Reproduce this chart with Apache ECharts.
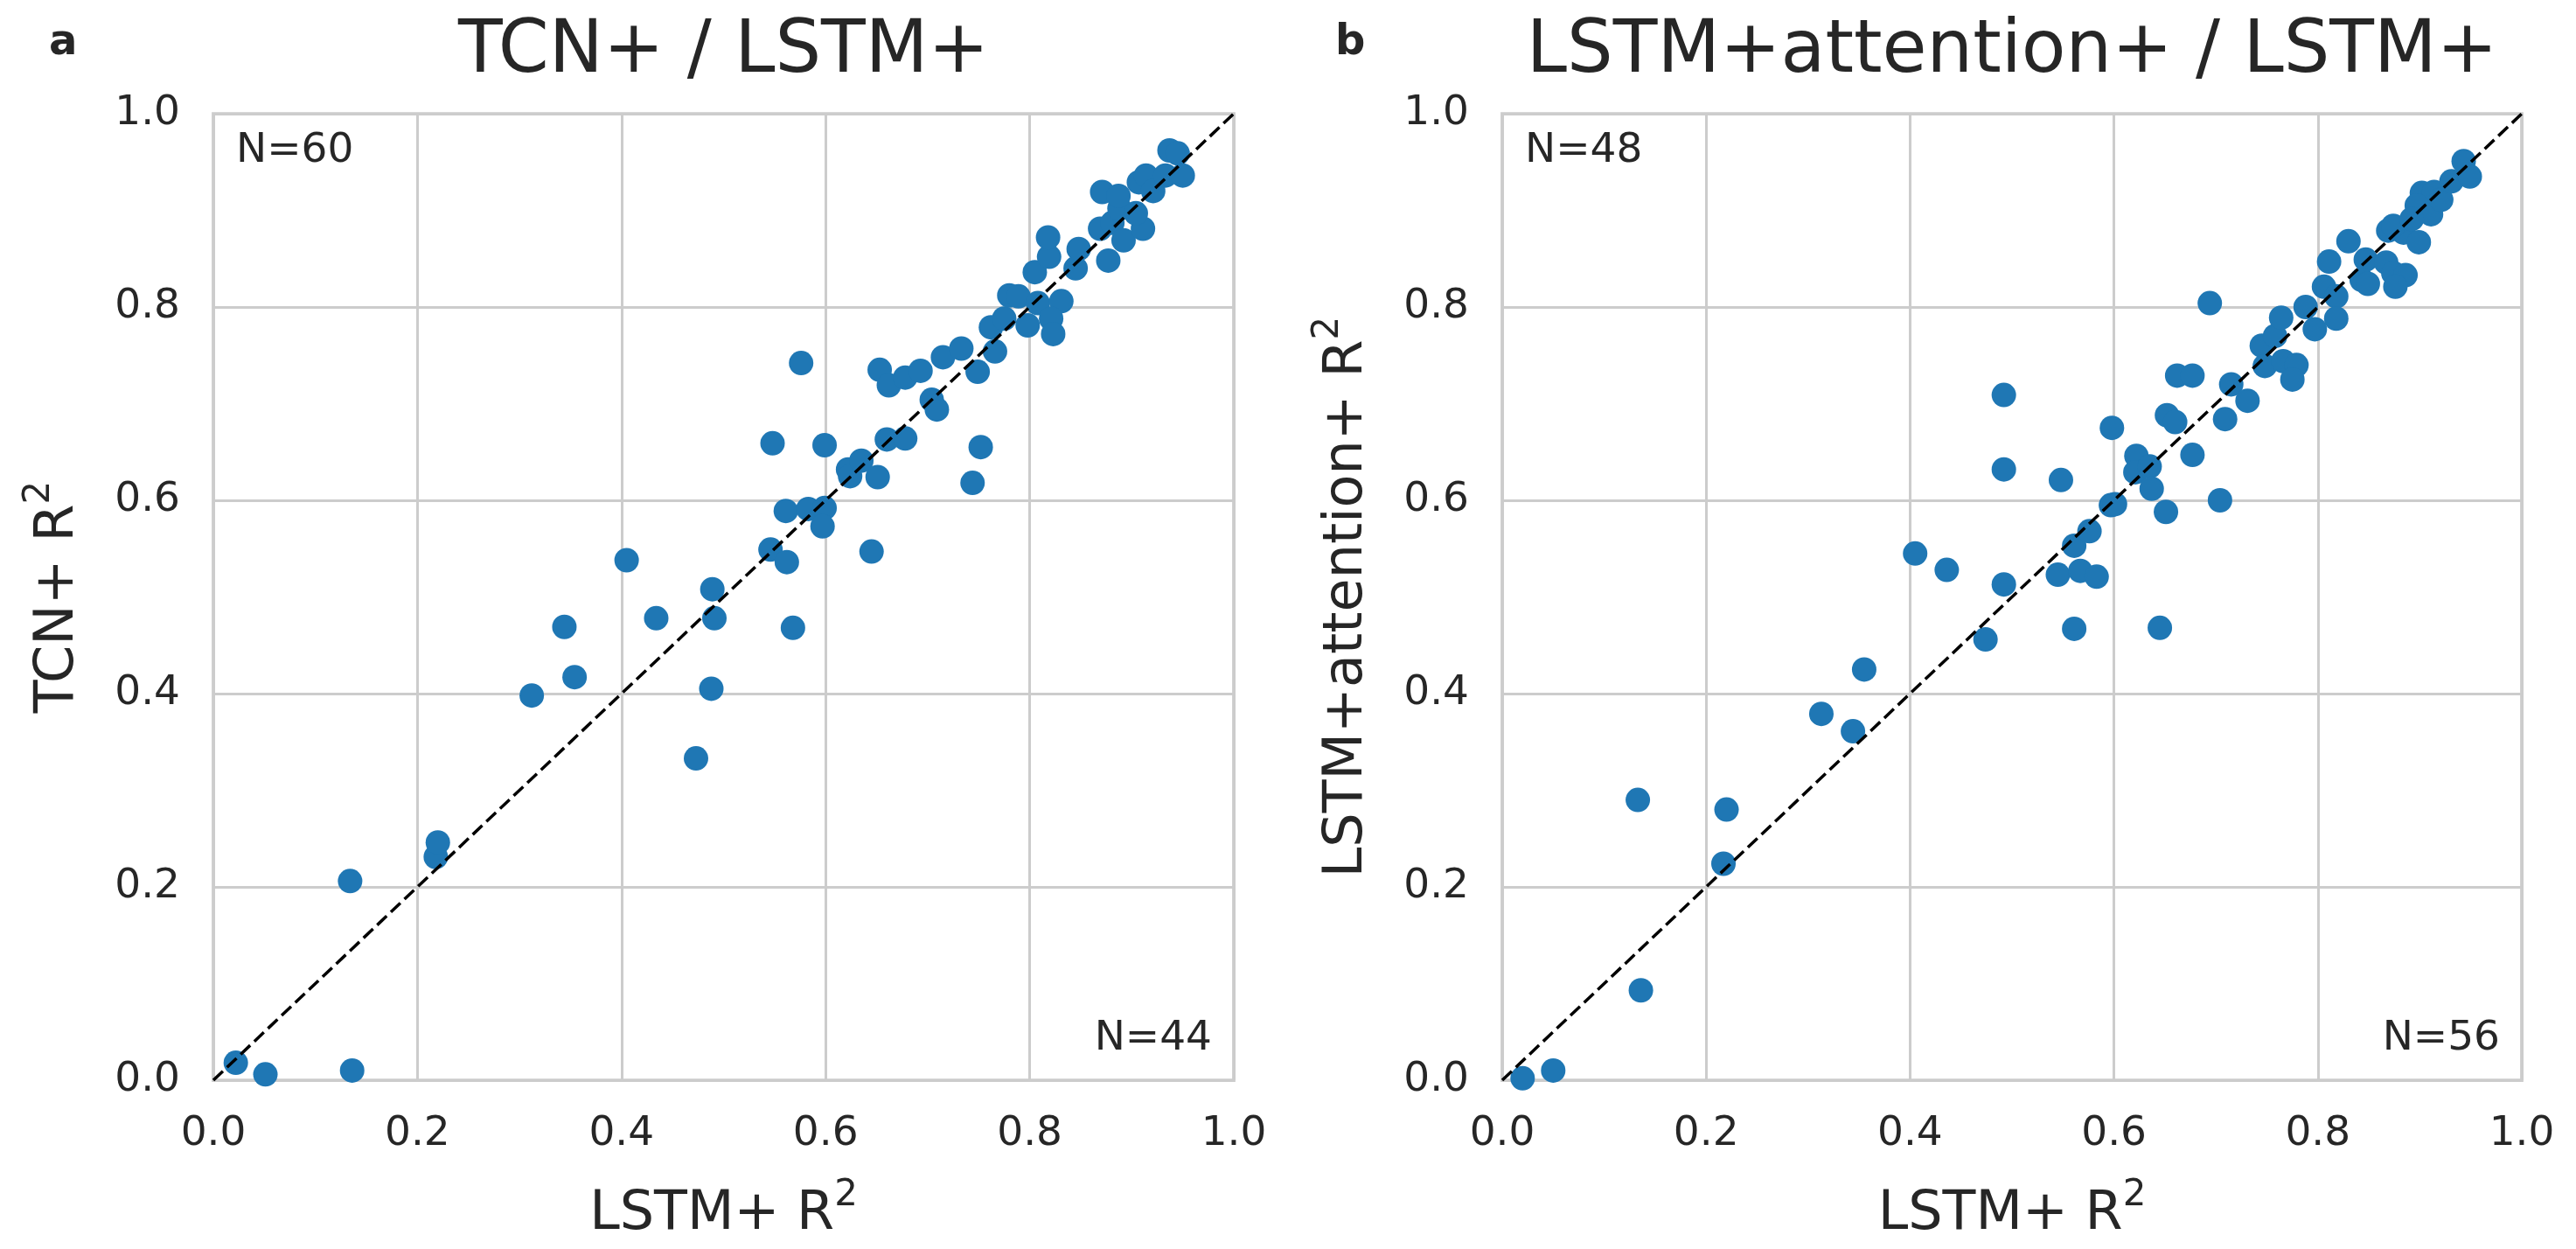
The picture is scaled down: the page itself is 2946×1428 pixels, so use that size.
<!DOCTYPE html>
<html>
<head>
<meta charset="utf-8">
<script src="https://cdn.jsdelivr.net/npm/echarts@6/dist/echarts.min.js"></script>
<style>
html,body{margin:0;padding:0;background:#fff;}
#c{width:2946px;height:1428px;}
</style>
</head>
<body>
<div id="c"></div>
<script>
// ---- data ----
const ticks = [0.0, 0.2, 0.4, 0.6, 0.8, 1.0];
const diagonal = [0, 1];

const titleA = 'TCN+ / LSTM+';
const titleB = 'LSTM+attention+ / LSTM+';
const xNameA = 'LSTM+ R';
const yNameA = 'TCN+ R';
const xNameB = 'LSTM+ R';
const yNameB = 'LSTM+attention+ R';
const countsA = ['N=60', 'N=44'];
const countsB = ['N=48', 'N=56'];

const aX = [0.022,0.051,0.136,0.134,0.218,0.220,0.312,0.344,0.354,0.405,0.434,0.473,0.488,0.491,0.489,
  0.546,0.562,0.568,0.548,0.561,0.583,0.599,0.597,0.599,0.576,0.622,0.624,0.635,0.651,0.645,
  0.660,0.678,0.653,0.662,0.678,0.693,0.704,0.709,0.715,0.733,0.749,0.744,0.752,0.762,0.766,
  0.775,0.780,0.789,0.798,0.808,0.831,0.821,0.823,0.805,0.819,0.818,0.845,0.848,0.877,0.869,
  0.881,0.892,0.911,0.888,0.904,0.871,0.887,0.907,0.914,0.921,0.933,0.937,0.945,0.950];
const aY = [0.018,0.006,0.010,0.206,0.231,0.246,0.398,0.469,0.417,0.538,0.478,0.333,0.405,0.478,0.508,
  0.549,0.536,0.468,0.659,0.589,0.591,0.592,0.573,0.657,0.742,0.632,0.625,0.641,0.624,0.547,
  0.663,0.664,0.735,0.719,0.727,0.734,0.704,0.694,0.748,0.757,0.733,0.618,0.655,0.779,0.754,
  0.788,0.812,0.811,0.781,0.804,0.806,0.788,0.772,0.836,0.852,0.872,0.840,0.860,0.848,0.881,
  0.887,0.869,0.881,0.902,0.897,0.919,0.915,0.929,0.936,0.920,0.936,0.962,0.959,0.936];

const bX = [0.020,0.050,0.136,0.133,0.220,0.217,0.313,0.344,0.355,0.405,0.436,0.492,0.474,0.492,0.492,
  0.548,0.598,0.561,0.545,0.567,0.583,0.561,0.576,0.597,0.601,0.645,0.651,0.704,0.622,0.621,
  0.635,0.637,0.677,0.652,0.660,0.662,0.677,0.694,0.715,0.731,0.709,0.745,0.758,0.764,0.748,
  0.766,0.779,0.775,0.788,0.797,0.806,0.818,0.818,0.811,0.830,0.847,0.843,0.849,0.867,0.874,
  0.886,0.876,0.869,0.884,0.899,0.902,0.914,0.897,0.911,0.921,0.931,0.943,0.949,0.874,0.892];
const bY = [0.002,0.010,0.093,0.290,0.280,0.224,0.379,0.361,0.425,0.545,0.528,0.513,0.456,0.709,0.632,
  0.621,0.675,0.467,0.523,0.527,0.521,0.553,0.568,0.595,0.596,0.468,0.588,0.600,0.646,0.629,
  0.635,0.612,0.647,0.688,0.681,0.729,0.729,0.804,0.720,0.703,0.684,0.760,0.770,0.789,0.739,
  0.744,0.740,0.725,0.800,0.777,0.821,0.811,0.788,0.847,0.868,0.849,0.828,0.824,0.846,0.835,
  0.833,0.821,0.879,0.877,0.867,0.918,0.919,0.905,0.896,0.911,0.930,0.951,0.935,0.884,0.891];

// ---- styling ----
const FONT = 'DejaVu Sans';
const TXT = '#262626';
const GRIDC = '#cccccc';
const BLUE = '#1f77b4';

const grids = [
  {left: 244, top: 130, width: 1167, height: 1105},
  {left: 1718, top: 130, width: 1166, height: 1105}
];

function zip(xs, ys){ return xs.map((x,i)=>[x, ys[i]]); }

function nameStyle(){
  return {
    color: TXT, fontFamily: FONT,
    rich: {
      m: {fontSize: 62, lineHeight: 74, verticalAlign: 'bottom', color: TXT, fontFamily: FONT},
      s: {fontSize: 42, lineHeight: 42, verticalAlign: 'top', color: TXT, fontFamily: FONT}
    }
  };
}

function axis(gi, name, isY){
  return {
    type: 'value', gridIndex: gi,
    min: ticks[0], max: ticks[ticks.length-1], interval: ticks[1]-ticks[0],
    name: '{m|' + name + '}{s|2}',
    nameLocation: 'middle',
    nameGap: isY ? 146 : 111,
    nameRotate: isY ? 90 : 0,
    nameTextStyle: nameStyle(),
    axisLine: {show: false},
    axisTick: {show: false},
    axisLabel: {fontSize: 47, color: TXT, fontFamily: FONT, margin: 38,
      formatter: v => v.toFixed(1)},
    splitLine: {show: true, lineStyle: {color: GRIDC, width: 3}}
  };
}

function txt(x, y, text, size, align, bold){
  return {type: 'text', x: x, y: y, z: 100,
    style: {text: text, fontSize: size, fontFamily: FONT, fill: TXT,
      fontWeight: bold ? 'bold' : 'normal', align: align, verticalAlign: 'middle'}};
}

const chart = echarts.init(document.getElementById('c'), null, {renderer: 'canvas'});

const cxA = grids[0].left + grids[0].width/2;
const cxB = grids[1].left + grids[1].width/2;

chart.setOption({
  animation: false,
  backgroundColor: '#ffffff',
  grid: grids.map(g => Object.assign({show: true, borderColor: GRIDC, borderWidth: 3.75,
    backgroundColor: 'transparent', containLabel: false}, g)),
  xAxis: [axis(0, xNameA, false), axis(1, xNameB, false)],
  yAxis: [axis(0, yNameA, true), axis(1, yNameB, true)],
  series: [
    {type: 'scatter', xAxisIndex: 0, yAxisIndex: 0, data: zip(aX, aY), symbolSize: 28,
      itemStyle: {color: BLUE, opacity: 1}, clip: true, z: 2},
    {type: 'line', xAxisIndex: 0, yAxisIndex: 0, data: zip(diagonal, diagonal), symbol: 'none',
      lineStyle: {color: '#000', width: 3.5, type: [15, 6.5]}, z: 3, silent: true},
    {type: 'scatter', xAxisIndex: 1, yAxisIndex: 1, data: zip(bX, bY), symbolSize: 28,
      itemStyle: {color: BLUE, opacity: 1}, clip: true, z: 2},
    {type: 'line', xAxisIndex: 1, yAxisIndex: 1, data: zip(diagonal, diagonal), symbol: 'none',
      lineStyle: {color: '#000', width: 3.5, type: [15, 6.5]}, z: 3, silent: true}
  ],
  graphic: [
    txt(cxA, 60, titleA, 83, 'center', false),
    txt(cxB, 60, titleB, 83, 'center', false),
    txt(56, 50, 'a', 48, 'left', true),
    txt(1527, 50, 'b', 48, 'left', true),
    txt(grids[0].left + 26, 173, countsA[0], 47, 'left', false),
    txt(grids[0].left + grids[0].width - 25, 1188, countsA[1], 47, 'right', false),
    txt(grids[1].left + 26, 173, countsB[0], 47, 'left', false),
    txt(grids[1].left + grids[1].width - 25, 1188, countsB[1], 47, 'right', false)
  ]
});
</script>
</body>
</html>
